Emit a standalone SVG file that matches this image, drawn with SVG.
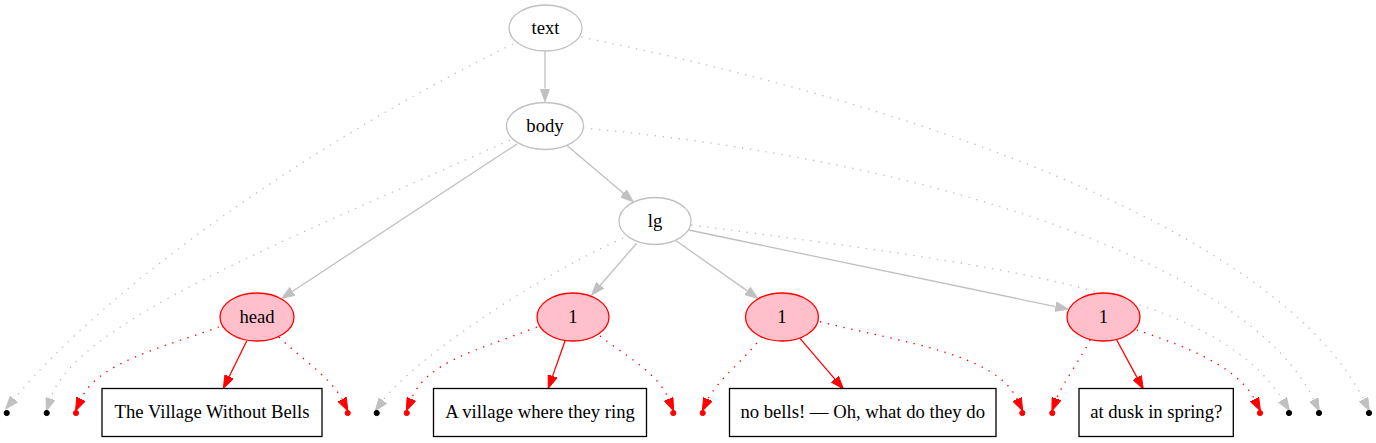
<svg xmlns="http://www.w3.org/2000/svg" width="1376" height="443" viewBox="0 0 1376 443">
<style>
.bg{fill:#ffffff}
.lbl{font-family:"Liberation Serif","Times New Roman",serif;font-size:18.67px;fill:#000;text-anchor:middle}
.gn{fill:#ffffff;stroke:#c0c0c0;stroke-width:1.3}
.rn{fill:#ffc0cb;stroke:#ff0000;stroke-width:1.3}
.box{fill:#ffffff;stroke:#000000;stroke-width:1.3}
.gs{fill:none;stroke:#c0c0c0;stroke-width:1.3;marker-end:url(#ag)}
.rs{fill:none;stroke:#ff0000;stroke-width:1.3;marker-end:url(#ar)}
.gd{fill:none;stroke:#c0c0c0;stroke-width:1.3;stroke-dasharray:1.4,6.6;marker-end:url(#ag)}
.rd{fill:none;stroke:#ff0000;stroke-width:1.3;stroke-dasharray:1.4,6.6;marker-end:url(#ar)}
.pk{fill:#000000;stroke:#000000}
.pr{fill:#ff0000;stroke:#ff0000}
</style>
<defs>
<marker id="ag" viewBox="0 -5 13 10" refX="0" refY="0" markerWidth="13" markerHeight="10" markerUnits="userSpaceOnUse" orient="auto"><path d="M0,-4.7L13,0L0,4.7z" fill="#c0c0c0" stroke="#c0c0c0" stroke-width="1"/></marker>
<marker id="ar" viewBox="0 -5 13 10" refX="0" refY="0" markerWidth="13" markerHeight="10" markerUnits="userSpaceOnUse" orient="auto"><path d="M0,-4.7L13,0L0,4.7z" fill="#ff0000" stroke="#ff0000" stroke-width="1"/></marker>
</defs>
<rect class="bg" x="0" y="0" width="1376" height="443"/>
<g id="connectors">
<path class="gs" d="M545,51L545,88.5"/>
<path class="gs" d="M567.3,145.7L623.4,193.3"/>
<path class="gs" d="M517,144L292.6,291.2"/>
<path class="gs" d="M636.7,243.3L600.2,285.2"/>
<path class="gs" d="M675,240L747.3,290.9"/>
<path class="gs" d="M688.6,230L1055.5,306.6"/>
<path class="rs" d="M246.7,341L229.1,376.7"/>
<path class="rs" d="M565,341L552.6,376.1"/>
<path class="rs" d="M800,338.3L834.9,379.1"/>
<path class="rs" d="M1116.7,340L1137.1,377.6"/>
<path class="gd" d="M513,44C313,142 110,284 14,399"/>
<path class="gd" d="M510,140C282,242.5 76.1,322.6 50.5,398.6"/>
<path class="gd" d="M623,238C532,279 413,360.5 383,400.5"/>
<path class="gd" d="M691,225C988,264 1213.7,289.3 1282.6,399.8"/>
<path class="gd" d="M583,128C935,160 1247.7,264.5 1313.7,399.5"/>
<path class="gd" d="M581,37C953.4,113 1280.7,239 1363.5,399.3"/>
<path class="rd" d="M219,327C162.6,347.4 97.8,362.6 81,399"/>
<path class="rd" d="M279,337C296.5,355 330.5,377 342,399.3"/>
<path class="rd" d="M537,327C471.9,352.2 427,362.2 411.4,399"/>
<path class="rd" d="M600,336C623.4,354.6 656.9,371.4 668.6,399"/>
<path class="rd" d="M761.7,336.7C750.7,353.3 716.5,381.2 707.9,399.2"/>
<path class="rd" d="M820,321.7C907.3,343.3 995.6,354.2 1017.1,399.2"/>
<path class="rd" d="M1090,340C1085,352 1061.8,384.6 1056.5,398.7"/>
<path class="rd" d="M1136.7,330C1174.7,342.8 1236.1,363.7 1254.5,399.3"/>
</g>
<g id="n_text"><ellipse class="gn" cx="545.5" cy="28" rx="36.5" ry="23"/><text class="lbl" x="545.5" y="33.5">text</text></g>
<g id="n_body"><ellipse class="gn" cx="545" cy="126" rx="38.5" ry="23.5"/><text class="lbl" x="545" y="131.5">body</text></g>
<g id="n_lg"><ellipse class="gn" cx="655" cy="221" rx="36" ry="23.5"/><text class="lbl" x="655" y="226.5">lg</text></g>
<g id="n_head"><ellipse class="rn" cx="257" cy="317" rx="37" ry="24"/><text class="lbl" x="257" y="322.5">head</text></g>
<g id="n_l1"><ellipse class="rn" cx="573" cy="317" rx="36" ry="24"/><text class="lbl" x="573" y="322.5">1</text></g>
<g id="n_l2"><ellipse class="rn" cx="782" cy="317" rx="36.5" ry="24"/><text class="lbl" x="782" y="322.5">1</text></g>
<g id="n_l3"><ellipse class="rn" cx="1103.5" cy="317" rx="36.5" ry="24"/><text class="lbl" x="1103.5" y="322.5">1</text></g>
<g id="t_head"><rect class="box" x="102" y="388.5" width="220" height="48"/><text class="lbl" x="212" y="418">The Village Without Bells</text></g>
<g id="t_l1"><rect class="box" x="433.5" y="388.5" width="213" height="48"/><text class="lbl" x="540" y="418">A village where they ring</text></g>
<g id="t_l2"><rect class="box" x="729.5" y="388.5" width="266.5" height="48"/><text class="lbl" x="862.7" y="418">no bells! — Oh, what do they do</text></g>
<g id="t_l3"><rect class="box" x="1079" y="388.5" width="154.3" height="48"/><text class="lbl" x="1156.2" y="418">at dusk in spring?</text></g>
<g id="p1"><circle class="pk" cx="6.7" cy="413" r="2.6"/></g>
<g id="p2"><circle class="pk" cx="46.7" cy="413" r="2.6"/></g>
<g id="p3"><circle class="pr" cx="76" cy="413" r="2.6"/></g>
<g id="p4"><circle class="pr" cx="347.7" cy="413" r="2.6"/></g>
<g id="p5"><circle class="pk" cx="376.7" cy="413" r="2.6"/></g>
<g id="p6"><circle class="pr" cx="406.7" cy="413" r="2.6"/></g>
<g id="p7"><circle class="pr" cx="673.3" cy="413" r="2.6"/></g>
<g id="p8"><circle class="pr" cx="702.7" cy="413" r="2.6"/></g>
<g id="p9"><circle class="pr" cx="1022.3" cy="413" r="2.6"/></g>
<g id="p10"><circle class="pr" cx="1052.3" cy="413" r="2.6"/></g>
<g id="p11"><circle class="pr" cx="1260" cy="413" r="2.6"/></g>
<g id="p12"><circle class="pk" cx="1289" cy="413" r="2.6"/></g>
<g id="p13"><circle class="pk" cx="1319" cy="413" r="2.6"/></g>
<g id="p14"><circle class="pk" cx="1369" cy="413" r="2.6"/></g>
</svg>
